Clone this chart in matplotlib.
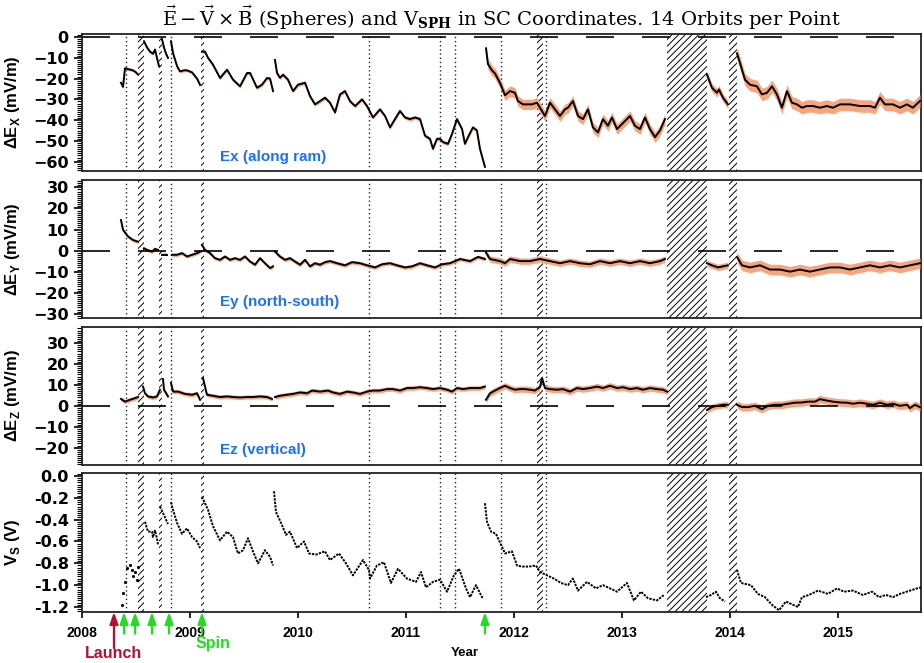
import matplotlib
matplotlib.use('Agg')
import matplotlib.pyplot as plt
from matplotlib.ticker import MultipleLocator, FormatStrFormatter

plt.rcParams['font.family'] = ['Liberation Sans', 'DejaVu Sans']
plt.rcParams['font.weight'] = 'normal'
plt.rcParams['hatch.linewidth'] = 0.7
plt.rcParams['mathtext.fontset'] = 'custom'
plt.rcParams['mathtext.rm'] = 'Liberation Sans:bold'
plt.rcParams['mathtext.bf'] = 'Liberation Sans:bold'

# ---------------- data (decimal years) ----------------
ex_t = [
    [2008.361, 2008.380, 2008.398, 2008.435, 2008.472, 2008.500, 2008.519],
    [2008.574, 2008.602, 2008.630, 2008.657, 2008.676, 2008.694, 2008.713],
    [2008.741, 2008.759, 2008.778, 2008.796],
    [2008.824, 2008.843, 2008.880, 2008.907, 2008.944, 2008.972, 2009.019, 2009.065, 2009.093],
    [2009.111, 2009.139, 2009.167, 2009.213, 2009.278, 2009.343, 2009.398, 2009.463, 2009.528,
     2009.556, 2009.620, 2009.667, 2009.713, 2009.741, 2009.769],
    [2009.787, 2009.806, 2009.833, 2009.861, 2009.907, 2009.954, 2010.000, 2010.065, 2010.111,
     2010.157, 2010.204, 2010.250, 2010.296, 2010.343, 2010.389, 2010.435, 2010.481, 2010.528,
     2010.593, 2010.639, 2010.694, 2010.759, 2010.806, 2010.852, 2010.898, 2010.944, 2010.991,
     2011.037, 2011.083, 2011.130, 2011.176, 2011.222, 2011.250, 2011.287, 2011.315, 2011.343,
     2011.389, 2011.426, 2011.472, 2011.519, 2011.546, 2011.574, 2011.620, 2011.657, 2011.685,
     2011.731],
    [2011.741, 2011.759, 2011.796, 2011.824, 2011.870, 2011.917, 2011.963, 2012.009, 2012.037,
     2012.083, 2012.167, 2012.213, 2012.241, 2012.287, 2012.333, 2012.380, 2012.426, 2012.472,
     2012.500, 2012.546, 2012.593, 2012.639, 2012.685, 2012.731, 2012.778, 2012.824, 2012.870,
     2012.907, 2012.954, 2013.000, 2013.046, 2013.074, 2013.120, 2013.167, 2013.213, 2013.259,
     2013.306, 2013.352, 2013.398],
    [2013.787, 2013.833, 2013.880, 2013.898, 2013.935, 2013.981],
    [2014.065, 2014.093, 2014.139, 2014.185, 2014.250, 2014.296, 2014.343, 2014.389, 2014.435,
     2014.481, 2014.528, 2014.574, 2014.620, 2014.667, 2014.713, 2014.769, 2014.833, 2014.898,
     2014.954, 2015.019, 2015.111, 2015.204, 2015.296, 2015.343, 2015.389, 2015.435, 2015.509,
     2015.574, 2015.639, 2015.694, 2015.759],
]
ex_v = [
    [-22, -24, -15, -15.5, -16, -17, -18],
    [-2, -5, -7, -8, -6, -10, -14],
    [-1, -5, -8, -10],
    [-2, -7.7, -14, -16.5, -16, -16, -17, -20, -23],
    [-7, -7, -10, -13.3, -19.7, -15.7, -20.5, -23.7, -17.3, -17.3, -24.4, -22.9, -19.7, -20, -26],
    [-11, -17.3, -19.6, -18.1, -20.5, -26, -22.9, -22, -28.4, -32.4, -30.8, -29.2, -31.6, -36.3,
     -27.6, -26, -30.8, -33.2, -30, -33.2, -38.7, -34.8, -38, -43.5, -39.5, -35.6, -38.7, -39.5,
     -38.7, -39.5, -47.5, -49, -53.8, -49, -49, -50.6, -51.4, -46.7, -39.5, -44.3, -51.4, -48.2,
     -43.5, -45, -53.8, -62.5],
    [-5.4, -13, -16, -17.5, -22, -28, -26, -26.8, -30.8, -32.4, -32.4, -31.6, -34, -38, -31.6,
     -34.8, -38, -34.8, -34, -30.8, -38, -39.5, -34.8, -43.5, -45.9, -39.5, -42.7, -38.7, -44.3,
     -41.9, -39.5, -38, -42.7, -44.3, -38.7, -44.3, -48.2, -45, -39.5],
    [-18.1, -24.4, -26.8, -25.2, -29.2, -32.4],
    [-7.8, -12.5, -20.5, -22.9, -23.7, -27.6, -26.8, -23.7, -27.6, -34, -26, -31.6, -32.4, -34,
     -33.2, -33.2, -34, -33.2, -34, -32.4, -32.4, -33.2, -33.2, -34, -29.2, -32.4, -32.4, -34,
     -32.4, -34, -30.8],
]
ex_err = [0.7, 0.7, 0.7, 0.7, 0.8, 0.9, 2.5, 2.0, 3.0]

ey_t = [
    [2008.361, 2008.380, 2008.426, 2008.472, 2008.519],
    [2008.574, 2008.602, 2008.648, 2008.676, 2008.704],
    [2008.741, 2008.787],
    [2008.833, 2008.880, 2008.926, 2008.972, 2009.019, 2009.065, 2009.093],
    [2009.111, 2009.139, 2009.185, 2009.231, 2009.278, 2009.324, 2009.370, 2009.417, 2009.463,
     2009.509, 2009.556, 2009.602, 2009.648, 2009.694, 2009.741, 2009.769],
    [2009.787, 2009.833, 2009.880, 2009.926, 2009.972, 2010.019, 2010.065, 2010.111, 2010.157,
     2010.204, 2010.250, 2010.296, 2010.361, 2010.435, 2010.500, 2010.574, 2010.639, 2010.713,
     2010.778, 2010.852, 2010.917, 2010.991, 2011.056, 2011.130, 2011.194, 2011.269, 2011.333,
     2011.407, 2011.454, 2011.500, 2011.593, 2011.667, 2011.731],
    [2011.741, 2011.778, 2011.824, 2011.870, 2011.917, 2011.963, 2012.056, 2012.148, 2012.241,
     2012.333, 2012.426, 2012.519, 2012.611, 2012.704, 2012.796, 2012.889, 2012.981, 2013.074,
     2013.167, 2013.259, 2013.352, 2013.398],
    [2013.787, 2013.833, 2013.889, 2013.935, 2013.981],
    [2014.065, 2014.111, 2014.185, 2014.278, 2014.370, 2014.463, 2014.556, 2014.648, 2014.741,
     2014.833, 2014.926, 2015.019, 2015.111, 2015.204, 2015.296, 2015.389, 2015.481, 2015.574,
     2015.667, 2015.759],
]
ey_v = [
    [14.5, 9.8, 6.7, 5, 4.2],
    [1.1, 0.3, -0.5, 0.8, 0.3],
    [-2, -2],
    [-2, -2, -1.2, -2.8, -2, -1.2, -0.5],
    [2.7, 0.3, -1.2, -3.6, -4.4, -2.8, -4.4, -3.6, -4.4, -2.8, -5.2, -6.7, -3.6, -6, -8.3, -7.5],
    [-0.5, -2.8, -4.4, -3.6, -5.2, -6.7, -4.4, -7.5, -6, -6.7, -5.5, -5, -6, -7, -5.5, -6, -7,
     -8, -6.5, -6, -7, -8, -7.5, -6, -7, -8, -6.5, -6, -5, -4, -5, -3, -4],
    [-1, -4, -4.5, -5, -6, -4, -5, -5, -4, -5, -6, -5, -6, -6.5, -5, -6, -5, -6, -5, -6, -5, -4],
    [-6, -7, -8, -7.5, -7],
    [-3, -7, -8, -7, -9, -9, -10, -9, -10, -9, -8, -8, -9, -8, -7, -8, -7, -8, -7, -6],
]
ey_err = [0.8, 0.8, 0.8, 0.8, 0.8, 0.9, 1.5, 1.5, 2.5]

ez_t = [
    [2008.361, 2008.398, 2008.444, 2008.481, 2008.519],
    [2008.565, 2008.583, 2008.611, 2008.657, 2008.694, 2008.722],
    [2008.750, 2008.759, 2008.787, 2008.796],
    [2008.824, 2008.843, 2008.889, 2008.954, 2009.019, 2009.065, 2009.093],
    [2009.120, 2009.157, 2009.213, 2009.278, 2009.343, 2009.398, 2009.463, 2009.528, 2009.583,
     2009.648, 2009.713, 2009.759],
    [2009.787, 2009.833, 2009.898, 2009.954, 2010.019, 2010.083, 2010.130, 2010.204, 2010.278,
     2010.324, 2010.389, 2010.454, 2010.509, 2010.574, 2010.639, 2010.694, 2010.759, 2010.824,
     2010.880, 2010.944, 2011.009, 2011.065, 2011.130, 2011.194, 2011.250, 2011.315, 2011.380,
     2011.426, 2011.472, 2011.528, 2011.593, 2011.639, 2011.685, 2011.731],
    [2011.741, 2011.778, 2011.824, 2011.870, 2011.917, 2011.963, 2012.009, 2012.056, 2012.102,
     2012.148, 2012.194, 2012.241, 2012.259, 2012.287, 2012.333, 2012.398, 2012.454, 2012.519,
     2012.583, 2012.639, 2012.704, 2012.769, 2012.824, 2012.889, 2012.954, 2013.009, 2013.074,
     2013.139, 2013.194, 2013.259, 2013.324, 2013.380, 2013.417],
    [2013.787, 2013.833, 2013.880, 2013.935, 2013.981],
    [2014.065, 2014.111, 2014.167, 2014.231, 2014.296, 2014.352, 2014.417, 2014.481, 2014.537,
     2014.602, 2014.667, 2014.722, 2014.787, 2014.833, 2014.898, 2014.954, 2015.019, 2015.083,
     2015.139, 2015.204, 2015.269, 2015.324, 2015.389, 2015.454, 2015.509, 2015.574, 2015.639,
     2015.667, 2015.713, 2015.759],
]
ez_v = [
    [3.3, 2, 2.9, 3.5, 4.2],
    [9.2, 6, 4.5, 4, 4.5, 7.7],
    [12.8, 7.7, 5.3, 4.5],
    [10.9, 6.8, 6.8, 5.7, 5.3, 6, 2.9],
    [13.3, 5.3, 4.8, 4.2, 4.5, 4.2, 4, 4.2, 4.2, 4.5, 4.2, 3.3],
    [4.2, 4.8, 5.3, 5.7, 6.4, 6, 7.3, 6.8, 7.3, 6.4, 5.7, 6.8, 6.4, 5.7, 6.8, 7.3, 7.3, 8, 8,
     7.3, 8.5, 8.5, 8.9, 8.5, 8, 8.5, 7.7, 6.8, 8.5, 8, 8.5, 8.5, 8.5, 9.2],
    [2.9, 6, 7.3, 8.5, 9.6, 8.5, 7.7, 8, 8, 7.7, 7.3, 9, 13.3, 8.5, 8, 7.7, 8, 6.8, 8.5, 8,
     8.5, 9.2, 8.5, 9.6, 8.5, 8.9, 8, 8.5, 7.7, 8.5, 8, 7.7, 6.8],
    [-2, -0.6, 0, 0.5, 0.5],
    [0.5, -0.6, -0.6, 0, -1.6, 0, 0.5, 0.5, 1, 1.5, 1.6, 2, 2, 3.2, 2.5, 2, 1.6, 1.5, 1, 1.5,
     1, 0.5, 1.5, 0.5, 1, 0, 0.5, -1.1, 0.5, -0.6],
]
ez_err = [1.0, 1.0, 1.0, 1.0, 1.0, 1.1, 1.5, 1.5, 1.8]

vs_t = [
    [2008.370, 2008.380, 2008.398, 2008.417, 2008.444, 2008.463, 2008.472, 2008.491, 2008.509,
     2008.519],
    [2008.583, 2008.611, 2008.648, 2008.657, 2008.676, 2008.694, 2008.704],
    [2008.722, 2008.750, 2008.787, 2008.796],
    [2008.824, 2008.843, 2008.880, 2008.926, 2008.972, 2009.019, 2009.065, 2009.093],
    [2009.111, 2009.139, 2009.167, 2009.213, 2009.278, 2009.343, 2009.398, 2009.444, 2009.491,
     2009.537, 2009.583, 2009.630, 2009.694, 2009.741, 2009.769],
    [2009.778, 2009.796, 2009.843, 2009.889, 2009.926, 2009.991, 2010.056, 2010.102, 2010.167,
     2010.250, 2010.296, 2010.380, 2010.444, 2010.509, 2010.602, 2010.657, 2010.667, 2010.731,
     2010.796, 2010.861, 2010.926, 2011.009, 2011.093, 2011.139, 2011.185, 2011.250, 2011.315,
     2011.380, 2011.444, 2011.491, 2011.556, 2011.593, 2011.648, 2011.704, 2011.722],
    [2011.731, 2011.750, 2011.787, 2011.833, 2011.880, 2011.917, 2011.981, 2012.028, 2012.074,
     2012.139, 2012.204, 2012.241, 2012.306, 2012.370, 2012.435, 2012.500, 2012.546, 2012.593,
     2012.676, 2012.759, 2012.824, 2012.889, 2012.954, 2013.046, 2013.111, 2013.176, 2013.241,
     2013.324, 2013.389],
    [2013.778, 2013.824, 2013.870, 2013.907, 2013.954],
    [2014.065, 2014.083, 2014.102, 2014.194, 2014.259, 2014.324, 2014.389, 2014.454, 2014.519,
     2014.583, 2014.630, 2014.667, 2014.731, 2014.815, 2014.907, 2014.991, 2015.056, 2015.139,
     2015.231, 2015.315, 2015.380, 2015.444, 2015.509, 2015.574, 2015.667, 2015.731, 2015.769],
]
vs_v = [
    [-1.18, -1.07, -0.97, -0.84, -0.82, -0.86, -0.92, -0.88, -0.95, -0.83],
    [-0.42, -0.51, -0.51, -0.56, -0.50, -0.57, -0.63],
    [-0.28, -0.34, -0.42, -0.44],
    [-0.24, -0.31, -0.43, -0.53, -0.48, -0.56, -0.60, -0.66],
    [-0.19, -0.25, -0.31, -0.46, -0.59, -0.51, -0.56, -0.71, -0.68, -0.57, -0.69, -0.80, -0.68,
     -0.74, -0.82],
    [-0.14, -0.33, -0.43, -0.54, -0.51, -0.66, -0.60, -0.71, -0.72, -0.69, -0.77, -0.71, -0.80,
     -0.91, -0.77, -0.86, -0.94, -0.82, -0.79, -0.98, -0.85, -0.94, -0.97, -0.88, -1.02, -0.97,
     -0.95, -1.06, -0.91, -0.85, -1.03, -1.11, -1.00, -1.11, -1.12],
    [-0.25, -0.42, -0.51, -0.53, -0.63, -0.71, -0.69, -0.82, -0.83, -0.83, -0.82, -0.88, -0.91,
     -0.94, -0.98, -1.00, -0.94, -1.05, -0.97, -1.03, -1.00, -1.03, -1.06, -0.98, -1.14, -1.06,
     -1.12, -1.14, -1.09],
    [-1.11, -1.09, -1.06, -1.12, -1.15],
    [-0.86, -0.92, -0.98, -1.00, -1.08, -1.11, -1.18, -1.23, -1.15, -1.18, -1.20, -1.11, -1.09,
     -1.05, -1.08, -1.03, -1.06, -1.05, -1.09, -1.06, -1.11, -1.09, -1.11, -1.08, -1.05, -1.03,
     -1.02],
]

dotted_years = [2008.407, 2008.824, 2010.662, 2011.315, 2011.454, 2011.880, 2012.296]
hatch_spans = [(2008.514, 2008.574), (2008.713, 2008.741), (2009.102, 2009.130),
               (2012.216, 2012.266), (2013.414, 2013.790), (2013.988, 2014.062)]
launch_year = 2008.296
spin_years = [2008.389, 2008.491, 2008.648, 2008.806, 2009.111, 2011.731]
year_ticks = [2008, 2009, 2010, 2011, 2012, 2013, 2014, 2015]
x_range = (2008.0, 2015.769)

# ---------------- figure ----------------
W, H = 924, 663
fig = plt.figure(figsize=(W / 100, H / 100), dpi=100)

def add(top, bottom):
    return fig.add_axes([82 / W, 1 - bottom / H, (921 - 82) / W, (bottom - top) / H])

ax1 = add(34, 171)
ax2 = add(180, 318)
ax3 = add(327, 465)
ax4 = add(473, 612)
axes = [ax1, ax2, ax3, ax4]

orange = '#f7a57e'
blue = '#1f6fff'

for ax in axes:
    ax.set_xlim(*x_range)
    for s in ax.spines.values():
        s.set_linewidth(1.3)
        s.set_color('#222222')
    for a, b in hatch_spans:
        ax.axvspan(a, b, facecolor='white', edgecolor='black', hatch='/////', linewidth=0, zorder=1)
    for d in dotted_years:
        ax.axvline(d, color='#222222', lw=1.0, ls=(0, (1, 2)), zorder=1)
    ax.tick_params(axis='y', which='major', direction='out', length=6, width=1.2)
    ax.tick_params(axis='y', which='minor', direction='out', length=3.5, width=0.8)
    ax.tick_params(axis='x', which='both', bottom=False, labelbottom=False)

def draw_e(ax, ts, vs, errs):
    for t, v, e in zip(ts, vs, errs):
        lo = [x - e for x in v]
        hi = [x + e for x in v]
        ax.fill_between(t, lo, hi, color=orange, lw=0, zorder=3)
        ax.plot(t, v, color='black', lw=1.4, zorder=4)
    ax.axhline(0, color='black', lw=1.2, dashes=(16.8, 16.8), zorder=5)

draw_e(ax1, ex_t, ex_v, ex_err)
draw_e(ax2, ey_t, ey_v, ey_err)
draw_e(ax3, ez_t, ez_v, ez_err)

for i, (t, v) in enumerate(zip(vs_t, vs_v)):
    if i == 0:
        ax4.plot(t, v, ls='none', marker='.', ms=2.5, color='black', zorder=4)
    else:
        ax4.plot(t, v, color='black', lw=1.4, ls=(0, (1.2, 0.6)), zorder=4)

ax1.set_ylim(-64.5, 1.5)
ax1.yaxis.set_major_locator(MultipleLocator(10))
ax1.yaxis.set_minor_locator(MultipleLocator(1))
ax2.set_ylim(-32, 33.5)
ax2.yaxis.set_major_locator(MultipleLocator(10))
ax2.yaxis.set_minor_locator(MultipleLocator(1))
ax3.set_ylim(-28.3, 37.7)
ax3.set_yticks([-20, -10, 0, 10, 20, 30])
ax3.yaxis.set_minor_locator(MultipleLocator(1))
ax4.set_ylim(-1.246, 0.027)
ax4.yaxis.set_major_locator(MultipleLocator(0.2))
ax4.yaxis.set_minor_locator(MultipleLocator(0.02))
ax4.yaxis.set_major_formatter(FormatStrFormatter('%.1f'))

ax4.tick_params(axis='x', which='major', bottom=True, labelbottom=True, direction='out',
                length=4, width=1.2, labelsize=10, pad=6)
ax4.set_xticks(year_ticks)

for ax in axes:
    for lab in ax.get_yticklabels():
        lab.set_fontfamily('DejaVu Sans')
        lab.set_fontweight('bold')
        lab.set_fontsize(11.5)
for lab in ax4.get_xticklabels():
    lab.set_fontweight('bold')

ax1.set_ylabel(r'ΔE$_\mathbf{X}$ (mV/m)', fontsize=12, fontweight='bold')
ax2.set_ylabel(r'ΔE$_\mathbf{Y}$ (mV/m)', fontsize=12, fontweight='bold')
ax3.set_ylabel(r'ΔE$_\mathbf{Z}$ (mV/m)', fontsize=12, fontweight='bold')
ax4.set_ylabel(r'V$_\mathbf{S}$ (V)', fontsize=12, fontweight='bold')
for ax in axes:
    ax.yaxis.set_label_coords(-0.072, 0.5)

ax1.text(0.1645, 0.102, 'Ex (along ram)', transform=ax1.transAxes, color=blue,
         fontsize=11, fontweight='bold', va='center', ha='left')
ax2.text(0.1645, 0.116, 'Ey (north-south)', transform=ax2.transAxes, color=blue,
         fontsize=11, fontweight='bold', va='center', ha='left')
ax3.text(0.1645, 0.109, 'Ez (vertical)', transform=ax3.transAxes, color=blue,
         fontsize=11, fontweight='bold', va='center', ha='left')

# arrows
red = '#b3122e'
green = '#22dd22'
ax4.annotate('', xy=(launch_year, 0), xycoords=('data', 'axes fraction'),
             xytext=(launch_year, -0.26), textcoords=('data', 'axes fraction'),
             arrowprops=dict(arrowstyle='-|>,head_width=0.25,head_length=0.7', color=red,
                             lw=1.6, shrinkA=0, shrinkB=0), annotation_clip=False)
for sy in spin_years:
    ax4.annotate('', xy=(sy, 0), xycoords=('data', 'axes fraction'),
                 xytext=(sy, -0.155), textcoords=('data', 'axes fraction'),
                 arrowprops=dict(arrowstyle='-|>,head_width=0.25,head_length=0.7', color=green,
                                 lw=1.6, shrinkA=0, shrinkB=0), annotation_clip=False)
ax4.text(launch_year, -0.302, 'Launch', transform=ax4.get_xaxis_transform(), color=red,
         fontsize=11.5, fontweight='bold', ha='center', va='center', clip_on=False)
ax4.text(2009.213, -0.23, 'Spin', transform=ax4.get_xaxis_transform(), color=green,
         fontsize=11.5, fontweight='bold', ha='center', va='center', clip_on=False)

fig.text(465 / W, 1 - 653 / H, 'Year', fontsize=9.5, fontweight='bold', ha='center', va='center')

fig.text(501.5 / W, 1 - 18 / H,
         r'$\vec{\mathrm{E}}-\vec{\mathrm{V}}\times\vec{\mathrm{B}}$ (Spheres) and V$_{\mathbf{SPH}}$ in SC Coordinates. 14 Orbits per Point',
         fontsize=14, fontweight='normal', family='DejaVu Serif', math_fontfamily='dejavuserif',
         ha='center', va='center')

fig.savefig('out.png', dpi=100)
